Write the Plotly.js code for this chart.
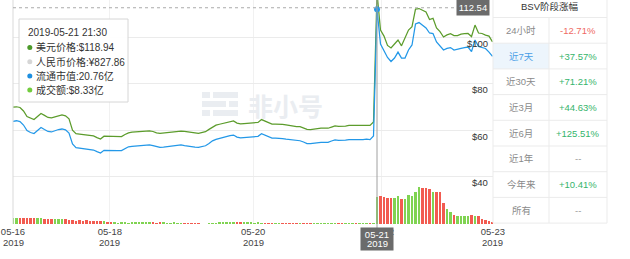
<!DOCTYPE html>
<html><head><meta charset="utf-8">
<script src="https://cdn.plot.ly/plotly-3.0.1.min.js"></script>
<style>html,body{margin:0;padding:0;background:#fff;}#chart{width:630px;height:259px;}</style>
</head><body><div id="chart"></div>
<script>
// ---- data ----
const usdPrice = [
69.9,70.1,69.8,68.3,65.9,65.1,64.6,65.9,67.2,66.4,
65.5,65.3,65.8,66.4,66.6,66.2,64.9,60.1,58.6,58.4,
58.2,58.1,57.8,57.6,56.9,56.3,57.5,57.4,57.3,57.3,
57.3,57.3,58.2,58.9,59.2,59.3,59.4,59.5,59.6,59.8,
59.5,58.9,58.7,58.9,59.0,59.2,59.4,59.6,59.7,59.5,
59.2,59.0,58.9,58.7,59.1,59.4,60.4,61.5,62.2,62.6,
63.0,63.4,63.7,64.0,63.1,62.8,62.9,63.0,63.1,63.4,
63.4,64.6,64.0,63.3,62.7,62.7,62.7,62.5,62.3,62.0,
61.9,61.6,61.6,61.0,60.4,60.3,60.6,60.9,60.9,60.9,
60.9,61.4,61.9,61.7,61.6,61.8,62.1,62.1,61.9,61.9,
62.1,62.2,62.1,63.6,118.94,103.0,100.4,96.4,95.3,97.0,
98.7,96.2,99.4,103.0,104.4,112.0,112.2,111.4,110.7,107.5,
108.0,103.9,102.3,100.0,100.9,101.4,100.6,100.6,101.2,101.4,
101.5,100.2,105.1,101.7,101.5,100.8,100.4,97.9];
const marketCap = [
12.07,12.11,12.05,11.78,11.35,11.20,11.12,11.35,11.59,11.43,
11.28,11.24,11.34,11.43,11.47,11.41,11.16,10.31,10.03,10.00,
9.96,9.93,9.88,9.84,9.72,9.61,9.82,9.80,9.79,9.79,
9.79,9.79,9.96,10.09,10.13,10.15,10.17,10.19,10.20,10.24,
10.18,10.09,10.05,10.07,10.10,10.13,10.17,10.21,10.23,10.18,
10.13,10.10,10.07,10.05,10.11,10.17,10.34,10.55,10.67,10.75,
10.83,10.90,10.96,11.00,10.84,10.78,10.80,10.83,10.85,10.89,
10.90,11.11,11.00,10.87,10.77,10.77,10.77,10.73,10.69,10.65,
10.62,10.58,10.56,10.46,10.34,10.34,10.38,10.44,10.44,10.44,
10.44,10.54,10.62,10.59,10.57,10.60,10.65,10.65,10.63,10.62,
10.65,10.68,10.65,10.93,20.76,18.07,17.52,17.02,16.71,16.98,
17.44,16.98,16.98,17.60,17.99,19.62,19.73,19.54,19.31,18.92,
18.88,18.22,17.91,17.60,17.72,17.79,17.60,17.64,17.73,17.79,
17.83,17.48,18.38,17.87,17.79,17.72,17.44,17.10];
const volume = [
1.8,1.9,1.7,1.8,1.9,1.8,1.7,1.9,1.8,
1.5,1.4,1.5,1.4,1.6,1.5,1.4,1.3,
1.1,1.0,1.1,1.0,1.1,1.0,1.0,0.9,
0.8,0.8,0.7,0.7,
0.5,0.4,0.5,0.5,0.4,0.5,0.6,0.5,0.6,0.5,0.6,0.5,0.4,0.5,0.5,0.4,0.4,0.5,0.4,0.4,0.3,0.4,0.3,0.3,0.3,
0.15,0.15,0.2,0.3,
0.4,0.5,0.5,0.6,0.5,0.6,0.6,0.5,0.6,0.5,0.5,0.4,0.5,0.4,0.4,
0.3,0.35,0.3,0.3,0.35,0.3,0.3,0.3,0.25,0.3,0.3,0.3,0.25,0.3,0.3,0.3,0.25,0.3,0.3,0.3,0.3,0.3,0.25,0.3,0.3,0.3,0.25,0.25,0.2,0.2,0.3,
8.33,8.7,8.2,8.0,7.9,7.9,8.5,7.8,7.7,8.8,8.5,10.0,11.4,11.2,11.0,10.7,9.9,9.8,9.8,6.5,4.6,3.8,2.7,2.6,2.6,2.5,2.4,2.9,2.6,2.4,1.5,1.1,0.8,0.5];
const tickIndex = [0, 27.7, 68.6, 105.4, 137.1];
const tickDates = ['05-16','05-18','05-20','05-22','05-23'];
const tickYears = ['2019','2019','2019','2019','2019'];
const priceTicks = [40, 60, 80, 100];
const priceTickText = ['$40','$60','$80','$100'];
const hoverIndex = 104;
const hoverTime = '2019-05-21 21:30';
const hoverDate = '05-21';
const hoverYear = '2019';
const hoverCny = 827.86;
const cursorPrice = 112.54;
const tableTitle = 'BSV阶段涨幅';
const periodLabels = ['24小时','近7天','近30天','近3月','近6月','近1年','今年来','所有'];
const periodChanges = ['-12.71%','+37.57%','+71.21%','+44.63%','+125.51%','--','+10.41%','--'];

// ---- drawing ----
const W = 630, H = 259;
const PX = x => x / W, PY = y => 1 - y / H;
const FONT = 'Liberation Sans, "Noto Sans CJK SC", sans-serif';
const idx = usdPrice.map((_, i) => i);
const GREEN = '#5c9c2c', BLUE = '#2398e8';
const barColors = volume.map((v, i) => (i === 0 || usdPrice[i] >= usdPrice[i - 1]) ? '#80d352' : '#f25b50');

const traces = [
  {type:'bar', x: idx, y: volume, yaxis:'y3', marker:{color: barColors}, width:0.7, hoverinfo:'skip'},
  {type:'scatter', mode:'lines', x: idx, y: usdPrice, line:{color:GREEN, width:1.25}, hoverinfo:'skip'},
  {type:'scatter', mode:'lines', x: idx, y: marketCap, yaxis:'y2', line:{color:BLUE, width:1.25}, hoverinfo:'skip'},
  {type:'scatter', mode:'markers', x:[hoverIndex], y:[marketCap[hoverIndex]], yaxis:'y2',
   marker:{color:BLUE, size:6}, hoverinfo:'skip'}
];

const shapes = [];
const annotations = [];

// watermark
const WM = '#eaedf1';
[[202,92,210,98],[213,92,238,98],[202,101,226,107],[229,101,238,107],[202,110,210,116],[213,110,238,116]]
  .forEach(r => shapes.push({type:'rect', xref:'paper', yref:'paper', x0:PX(r[0]), x1:PX(r[2]), y0:PY(r[3]), y1:PY(r[1]),
    fillcolor:WM, line:{width:0}, layer:'below'}));
annotations.push({xref:'paper', yref:'paper', x:PX(285), y:PY(105), text:'非小号', showarrow:false,
  font:{family:'"Noto Sans CJK SC", sans-serif', size:25, color:WM, weight:'bold'}, xanchor:'center', yanchor:'middle'});

// left axis line
shapes.push({type:'line', xref:'paper', yref:'paper', x0:PX(13), x1:PX(13), y0:PY(224), y1:1, line:{color:'#d9d9d9', width:1}});
// crosshair
shapes.push({type:'line', xref:'x', yref:'paper', x0:hoverIndex, x1:hoverIndex, y0:PY(228), y1:1, line:{color:'#a0a0a0', width:1}});
shapes.push({type:'line', xref:'paper', yref:'y', x0:PX(13), x1:PX(457), y0:cursorPrice, y1:cursorPrice,
  line:{color:'#aaaaaa', width:1, dash:'3px,3px'}});

// price labels
priceTicks.forEach((v, k) => annotations.push({xref:'paper', yref:'y', x:PX(490), y:v, yshift:-6, text:priceTickText[k],
  showarrow:false, xanchor:'right', yanchor:'middle', font:{family:FONT, size:9.5, color:'#333'}}));

// year labels under dates (the one under the hover date box is hidden by it)
tickIndex.forEach((v, k) => {
  if (Math.abs(v - hoverIndex) < 4) return;
  annotations.push({xref:'x', yref:'paper', x:v, y:PY(242), text:tickYears[k], showarrow:false,
    xanchor:'center', yanchor:'middle', font:{family:FONT, size:9.5, color:'#444'}});
});

// crosshair date label
annotations.push({xref:'x', yref:'paper', x:hoverIndex, y:PY(239), text:hoverDate, showarrow:false, xanchor:'center', yanchor:'middle',
  width:30, height:20, valign:'top', bgcolor:'#6b6b6b', borderpad:1, font:{family:FONT, size:9.5, color:'#fff'}});
annotations.push({xref:'x', yref:'paper', x:hoverIndex, y:PY(243.5), text:hoverYear, showarrow:false, xanchor:'center', yanchor:'middle',
  font:{family:FONT, size:9.5, color:'#fff'}});
// cursor price label
annotations.push({xref:'paper', yref:'y', x:PX(473), y:cursorPrice, text:cursorPrice.toFixed(2), showarrow:false,
  xanchor:'center', yanchor:'middle', width:30, height:13, bgcolor:'#6b6b6b', borderpad:1, font:{family:FONT, size:9.5, color:'#fff'}});

// tooltip
shapes.push({type:'rect', xref:'paper', yref:'paper', x0:PX(19), x1:PX(128), y0:PY(102), y1:PY(19),
  fillcolor:'rgba(255,255,255,0.93)', line:{color:'#d6d6d6', width:1}, layer:'above'});
const tipRows = [
  {c:'#4c9a2a', t:'美元价格:$' + usdPrice[hoverIndex].toFixed(2)},
  {c:'#d6d6d6', t:'人民币价格:¥' + hoverCny.toFixed(2)},
  {c:'#1e8fe0', t:'流通市值:' + marketCap[hoverIndex].toFixed(2) + '亿'},
  {c:'#72cc3e', t:'成交额:$' + volume[hoverIndex].toFixed(2) + '亿'}
];
annotations.push({xref:'paper', yref:'paper', x:PX(26), y:PY(33), text:hoverTime, showarrow:false, xanchor:'left', yanchor:'middle',
  font:{family:FONT, size:10, color:'#333'}});
tipRows.forEach((r, k) => {
  const yc = 47.5 + 14.2 * k;
  shapes.push({type:'circle', xref:'paper', yref:'paper', x0:PX(27.3), x1:PX(32.3), y0:PY(yc + 2.5), y1:PY(yc - 2.5),
    fillcolor:r.c, line:{width:0}, layer:'above'});
  annotations.push({xref:'paper', yref:'paper', x:PX(34), y:PY(yc), text:r.t, showarrow:false, xanchor:'left', yanchor:'middle',
    font:{family:FONT, size:10, color:'#333'}});
});

// table
const TL = 493, TR = 607, TM = 549, T0 = 17.5, RH = 25.7;
const TB = T0 + RH * periodLabels.length;
shapes.push({type:'rect', xref:'paper', yref:'paper', x0:PX(TL), x1:PX(TM), y0:PY(T0 + RH * 2), y1:PY(T0 + RH),
  fillcolor:'#edf5fc', line:{width:0}});
const TC = '#ebebeb';
[TL, TR].forEach(x => shapes.push({type:'line', xref:'paper', yref:'paper', x0:PX(x), x1:PX(x), y0:PY(TB), y1:1, line:{color:TC, width:1}}));
shapes.push({type:'line', xref:'paper', yref:'paper', x0:PX(TM), x1:PX(TM), y0:PY(TB), y1:PY(T0), line:{color:TC, width:1}});
for (let k = 0; k <= periodLabels.length; k++) {
  const y = T0 + RH * k;
  shapes.push({type:'line', xref:'paper', yref:'paper', x0:PX(TL), x1:PX(TR), y0:PY(y), y1:PY(y), line:{color:TC, width:1}});
}
annotations.push({xref:'paper', yref:'paper', x:PX(550), y:PY(6.5), text:tableTitle, showarrow:false, xanchor:'center', yanchor:'middle',
  font:{family:FONT, size:9.5, color:'#333'}});
periodLabels.forEach((lab, k) => {
  const yc = T0 + RH * k + RH / 2;
  const ch = periodChanges[k];
  const col = ch.startsWith('-') && ch !== '--' ? '#ef6a64' : (ch === '--' ? '#999' : '#35b46b');
  annotations.push({xref:'paper', yref:'paper', x:PX(521), y:PY(yc), text:lab, showarrow:false, xanchor:'center', yanchor:'middle',
    font:{family:FONT, size:9.5, color: k === 1 ? '#4a9ee6' : '#8a8a8a'}});
  annotations.push({xref:'paper', yref:'paper', x:PX(578), y:PY(yc), text:ch, showarrow:false, xanchor:'center', yanchor:'middle',
    font:{family:FONT, size:9.5, color:col}});
});

const layout = {
  width: W, height: H,
  margin: {l:0, r:0, t:0, b:0},
  paper_bgcolor:'#fff', plot_bgcolor:'#fff',
  showlegend:false, hovermode:false, bargap:0,
  xaxis: {domain:[PX(13), PX(493)], range:[0, 137.14], tickmode:'array', tickvals: tickIndex, ticktext: tickDates,
    showgrid:true, gridcolor:'#f1f1f1', zeroline:false, showline:false, ticks:'',
    tickfont:{family:FONT, size:9.5, color:'#444'}, fixedrange:true},
  yaxis: {domain:[PY(224), 1], range:[19.85, 115.86], tickmode:'array', tickvals: priceTicks, showticklabels:false,
    gridcolor:'#ebebeb', zeroline:false, showline:false, fixedrange:true},
  yaxis2: {overlaying:'y', range:[4.10, 21.48], visible:false, fixedrange:true},
  yaxis3: {overlaying:'y', range:[0, 69.1], visible:false, fixedrange:true},
  shapes, annotations
};
Plotly.newPlot('chart', traces, layout, {displayModeBar:false, staticPlot:true});
</script></body></html>
